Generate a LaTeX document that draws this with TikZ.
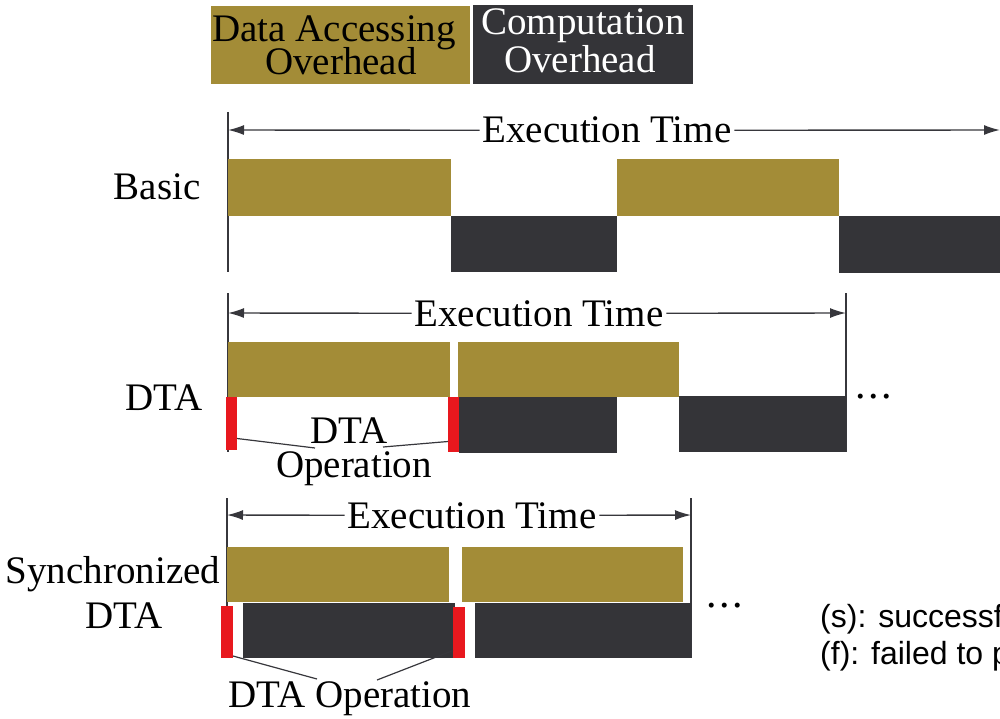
\documentclass[tikz,border=0pt]{standalone}
\usepackage{fontspec}
\setmainfont{Liberation Serif}
\newfontfamily\notesans{Liberation Sans}
\usetikzlibrary{arrows.meta}
\definecolor{gold}{RGB}{163,140,55}
\definecolor{slate}{RGB}{52,52,56}
\definecolor{dtared}{RGB}{232,24,30}
\definecolor{rule}{RGB}{55,55,60}
% \timeblock{name}{style}{x1}{y1}{x2}{y2}: a filled bar between two corners
\newcommand\timeblock[6]{%
  \node[#2, minimum width={(#5)-(#3)}, minimum height={(#6)-(#4)}] (#1) at (#3,#4) {};}
\begin{document}
\begin{tikzpicture}[x=1pt,y=-1pt,
  txt/.style={font=\fontsize{39}{39}\selectfont, inner sep=0pt, outer sep=0pt, anchor=base},
  etxt/.style={txt, inner xsep=3pt},
  blk/.style={rectangle, inner sep=0pt, outer sep=0pt, anchor=north west, draw=none},
  acc/.style={blk, fill=gold},
  cmp/.style={blk, fill=slate},
  dta/.style={blk, fill=dtared},
  tick/.style={draw=rule, line width=1.4pt},
  span/.style={draw=rule, line width=1.4pt, -{Latex[length=16pt,width=10pt]}},
  lead/.style={draw=rule, line width=1.2pt},
  dots/.style={txt, font=\fontsize{42}{42}\selectfont}]
\useasboundingbox (0,0) rectangle (1000,719);
\clip (0,0) rectangle (1000,719);

% legend
\timeblock{legacc}{acc}{211}{6}{470}{84}
\timeblock{legcmp}{cmp}{473}{5}{693}{84}
\node[txt] (legacc1) at (334,42) {Data Accessing};
\node[txt] (legacc2) at (341,75) {Overhead};
\node[txt, text=white] (legcmp1) at (583,35) {Computation};
\node[txt, text=white] (legcmp2) at (580,73) {Overhead};

% Basic
\coordinate (b0top) at (228,112);
\coordinate (b0bot) at (228,272);
\draw[tick] (b0top) -- (b0bot);
\coordinate (bl) at (228,130);
\coordinate (br) at (1000,130);
\node[etxt] (etb) at (607,143) {Execution Time};
\draw[span] (etb.west) -- (bl);
\draw[span] (etb.east) -- (br);
\node[txt] (lbasic) at (157,200) {Basic};
\timeblock{ba1}{acc}{228}{159}{451}{216}
\timeblock{bc1}{cmp}{451}{216}{617}{272}
\timeblock{ba2}{acc}{617}{159}{839}{216}
\timeblock{bc2}{cmp}{839}{216}{1000}{273}

% DTA
\coordinate (d0top) at (228,293);
\coordinate (d0bot) at (228,452);
\coordinate (d1top) at (846,293);
\coordinate (d1bot) at (846,452);
\draw[tick] (d0top) -- (d0bot);
\draw[tick] (d1top) -- (d1bot);
\coordinate (dl) at (228,313);
\coordinate (dr) at (846,313);
\node[etxt] (etd) at (539,326) {Execution Time};
\draw[span] (etd.west) -- (dl);
\draw[span] (etd.east) -- (dr);
\node[txt] (ldta) at (164,410) {DTA};
\timeblock{da1}{acc}{228}{342}{450}{397}
\timeblock{da2}{acc}{458}{342}{679}{397}
\timeblock{dr1}{dta}{226}{397}{237}{450}
\timeblock{dr2}{dta}{448}{397}{459}{452}
\timeblock{dc1}{cmp}{459}{397}{617}{453}
\timeblock{dc2}{cmp}{679}{396}{846}{452}
\node[dots] (ddots) at (874,398) {.\kern2.5pt.\kern2.5pt.};
\node[txt] (dop1) at (349,443) {DTA};
\node[txt] (dop2) at (354,477) {Operation};
\coordinate (dle1) at (315,448);
\coordinate (dle2) at (383,447);
\draw[lead] ([yshift=-15pt]dr1.east) -- (dle1);
\draw[lead] ([yshift=-17pt]dr2.west) -- (dle2);

% Synchronized DTA
\coordinate (s0top) at (227,498);
\coordinate (s0bot) at (227,658);
\coordinate (s1top) at (691,498);
\coordinate (s1bot) at (691,658);
\draw[tick] (s0top) -- (s0bot);
\draw[tick] (s1top) -- (s1bot);
\coordinate (sl) at (227,515);
\coordinate (sr) at (691,515);
\node[etxt] (ets) at (472,528) {Execution Time};
\draw[span] (ets.west) -- (sl);
\draw[span] (ets.east) -- (sr);
\node[txt] (lsyn1) at (113,583) {Synchronized};
\node[txt] (lsyn2) at (124,628) {DTA};
\timeblock{sa1}{acc}{227}{547}{449}{602}
\timeblock{sa2}{acc}{462}{547}{683}{602}
\timeblock{sr1}{dta}{221}{606}{233}{658}
\timeblock{sc1}{cmp}{243}{603}{455}{658}
\timeblock{sr2}{dta}{453}{607}{465}{658}
\timeblock{sc2}{cmp}{475}{603}{691}{658}
\node[dots] (sdots) at (725,607) {.\kern2.5pt.\kern2.5pt.};
\node[txt] (sop) at (350,707) {DTA Operation};
\coordinate (sle1) at (317,679);
\coordinate (sle2) at (377,680);
\draw[lead] ([yshift=-24pt]sr1.east) -- (sle1);
\draw[lead] ([yshift=-18pt]sr2.west) -- (sle2);

% notes
\node[anchor=base west, inner sep=0pt, font=\notesans\fontsize{32}{32}\selectfont] (ns) at (820,627) {(s): successf};
\node[anchor=base west, inner sep=0pt, font=\notesans\fontsize{32}{32}\selectfont] (nf) at (820,664) {(f): failed to p};
\end{tikzpicture}
\end{document}
